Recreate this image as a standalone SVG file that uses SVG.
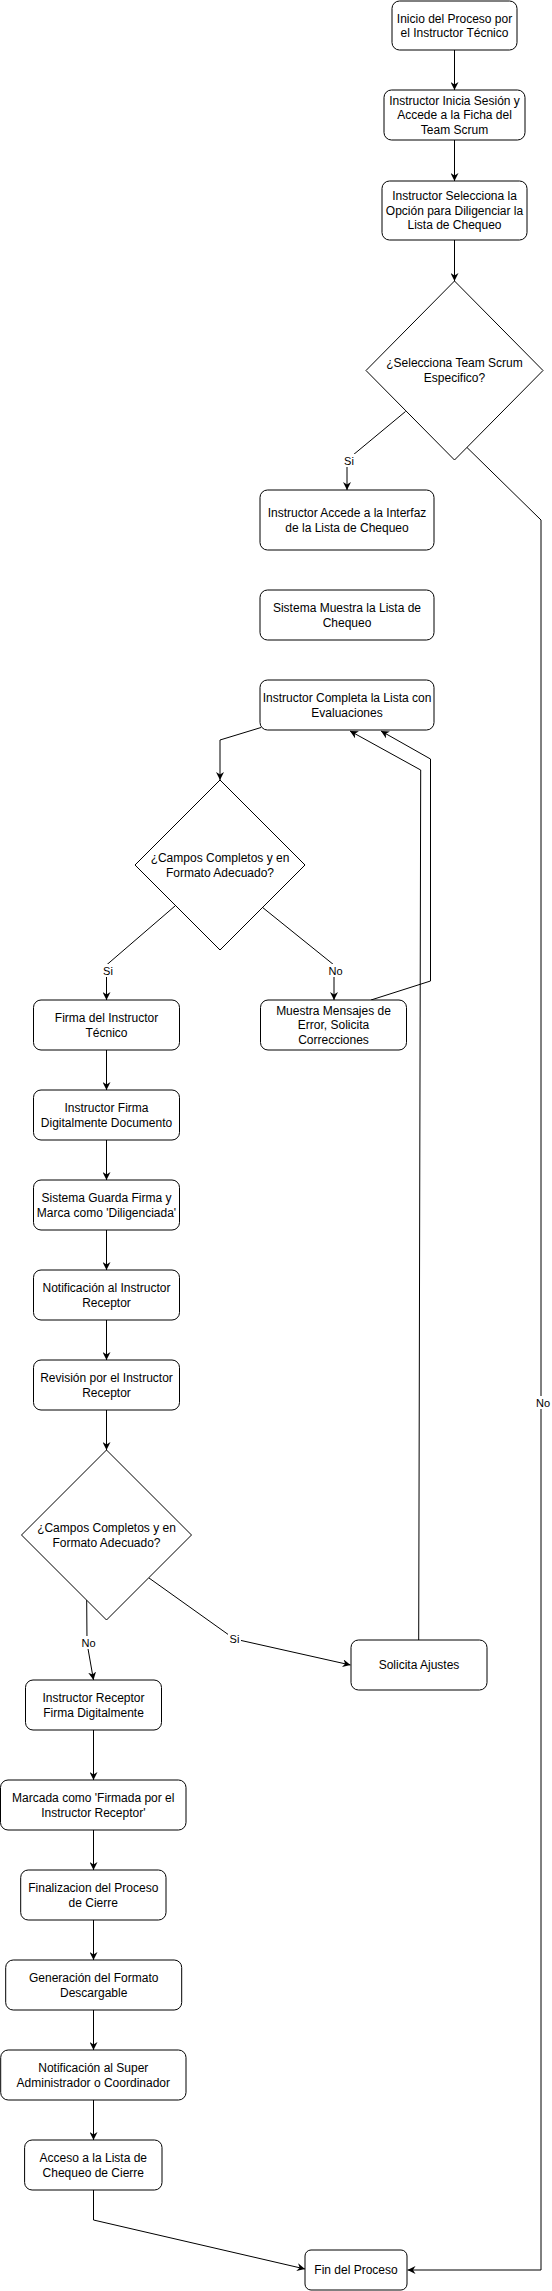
<svg xmlns="http://www.w3.org/2000/svg" width="552" height="2291" viewBox="0 0 552 2291">
<defs>
<style>
.n rect,.n polygon{fill:#fff;stroke:#000;stroke-width:1}
.n text{font-family:"Liberation Sans",Arial,sans-serif;font-size:12px;fill:#000;text-anchor:middle}
.e path{fill:none;stroke:#000;stroke-width:1}
.e path.a{marker-end:url(#arr)}
.lb rect{fill:#fff;stroke:none}
.lb text{font-family:"Liberation Sans",Arial,sans-serif;font-size:11px;fill:#000;text-anchor:middle}
</style>
<marker id="arr" viewBox="0 0 8 8" refX="8" refY="4" markerWidth="8" markerHeight="8" orient="auto" markerUnits="userSpaceOnUse">
<path d="M0,0 L8,4 L0,8 L2.5,4 z" fill="#000"/>
</marker>
</defs>
<g id="connectors" class="e">
<path class="a" d="M454.5,50 L454.5,90"/>
<path class="a" d="M454.5,140 L454.5,181"/>
<path class="a" d="M454.5,240 L454.5,281"/>
<path class="a" d="M405.5,411.5 L347,460 L347,490"/>
<path class="a" d="M467,447.5 L541,520 L541,2270 L407.5,2270"/>
<path class="a" d="M261,727.5 L220,740 L220,780"/>
<path class="a" d="M175,906 L106.5,965 L106.5,1000"/>
<path class="a" d="M262,907 L334,965 L334,1000"/>
<path class="a" d="M371,1000 L430.5,981 L430.5,759 L381,731"/>
<path class="a" d="M418.7,1640 L420.7,770 L350,731"/>
<path class="a" d="M106.5,1050 L106.5,1090"/>
<path class="a" d="M106.5,1140 L106.5,1180"/>
<path class="a" d="M106.5,1230 L106.5,1270"/>
<path class="a" d="M106.5,1320 L106.5,1360"/>
<path class="a" d="M106.5,1410 L106.5,1450"/>
<path class="a" d="M86.7,1600 L87,1643 L93.5,1680"/>
<path class="a" d="M149,1578 L234.5,1639 L350.5,1665"/>
<path class="a" d="M93.5,1730 L93.5,1780"/>
<path class="a" d="M93.5,1830 L93.5,1870"/>
<path class="a" d="M93.5,1920 L93.5,1960"/>
<path class="a" d="M93.5,2010 L93.5,2050"/>
<path class="a" d="M93.5,2100 L93.5,2140"/>
<path class="a" d="M93.5,2190 L93.5,2220 L305,2269"/>
<g class="lb">
<rect x="343" y="454" width="13" height="13"/><text x="349" y="465">Si</text>
<rect x="535.5" y="1396" width="15" height="13"/><text x="543" y="1407">No</text>
<rect x="102" y="964" width="13" height="13"/><text x="108" y="975">Si</text>
<rect x="328" y="964" width="15" height="13"/><text x="335.5" y="975">No</text>
<rect x="81" y="1636" width="15" height="13"/><text x="88.5" y="1647">No</text>
<rect x="228" y="1632" width="13" height="13"/><text x="234.5" y="1643">Si</text>
</g>
</g>
<g id="n1" class="n"><rect x="392" y="1" width="125" height="49" rx="7.5"/><text x="454.5" y="22.6">Inicio del Proceso por</text><text x="454.5" y="37">el Instructor Técnico</text></g>
<g id="n2" class="n"><rect x="384" y="90" width="141" height="50" rx="7.5"/><text x="454.5" y="104.9">Instructor Inicia Sesión y</text><text x="454.5" y="119.3">Accede a la Ficha del</text><text x="454.5" y="133.7">Team Scrum</text></g>
<g id="n3" class="n"><rect x="382" y="181" width="145" height="59" rx="7.5"/><text x="454.5" y="200.4">Instructor Selecciona la</text><text x="454.5" y="214.8">Opción para Diligenciar la</text><text x="454.5" y="229.2">Lista de Chequeo</text></g>
<g id="d1" class="n"><polygon points="454.5,281 543,370.5 454.5,460 366,370.5"/><text x="454.5" y="367.4">¿Selecciona Team Scrum</text><text x="454.5" y="381.8">Especifico?</text></g>
<g id="n4" class="n"><rect x="260" y="490" width="174" height="60" rx="7.5"/><text x="347" y="517.1">Instructor Accede a la Interfaz</text><text x="347" y="531.5">de la Lista de Chequeo</text></g>
<g id="n5" class="n"><rect x="260" y="590" width="174" height="50" rx="7.5"/><text x="347" y="612.1">Sistema Muestra la Lista de</text><text x="347" y="626.5">Chequeo</text></g>
<g id="n6" class="n"><rect x="260" y="680" width="174" height="50" rx="7.5"/><text x="347" y="702.1">Instructor Completa la Lista con</text><text x="347" y="716.5">Evaluaciones</text></g>
<g id="d2" class="n"><polygon points="220,780 305,865 220,950 135,865"/><text x="220" y="862.1">¿Campos Completos y en</text><text x="220" y="876.5">Formato Adecuado?</text></g>
<g id="n7" class="n"><rect x="33.5" y="1000" width="146" height="50" rx="7.5"/><text x="106.5" y="1022.1">Firma del Instructor</text><text x="106.5" y="1036.5">Técnico</text></g>
<g id="n8" class="n"><rect x="260.5" y="1000" width="146" height="50" rx="7.5"/><text x="333.5" y="1014.9">Muestra Mensajes de</text><text x="333.5" y="1029.3">Error, Solicita</text><text x="333.5" y="1043.7">Correcciones</text></g>
<g id="n9" class="n"><rect x="33.5" y="1090" width="146" height="50" rx="7.5"/><text x="106.5" y="1112.1">Instructor Firma</text><text x="106.5" y="1126.5">Digitalmente Documento</text></g>
<g id="n10" class="n"><rect x="33.5" y="1180" width="146" height="50" rx="7.5"/><text x="106.5" y="1202.1">Sistema Guarda Firma y</text><text x="106.5" y="1216.5">Marca como 'Diligenciada'</text></g>
<g id="n11" class="n"><rect x="33.5" y="1270" width="146" height="50" rx="7.5"/><text x="106.5" y="1292.1">Notificación al Instructor</text><text x="106.5" y="1306.5">Receptor</text></g>
<g id="n12" class="n"><rect x="33.5" y="1360" width="146" height="50" rx="7.5"/><text x="106.5" y="1382.1">Revisión por el Instructor</text><text x="106.5" y="1396.5">Receptor</text></g>
<g id="d3" class="n"><polygon points="106.5,1450 191.5,1535 106.5,1620 21.5,1535"/><text x="106.5" y="1532.1">¿Campos Completos y en</text><text x="106.5" y="1546.5">Formato Adecuado?</text></g>
<g id="n13" class="n"><rect x="351" y="1640" width="136" height="50" rx="7.5"/><text x="419" y="1669.3">Solicita Ajustes</text></g>
<g id="n14" class="n"><rect x="25.5" y="1680" width="136" height="50" rx="7.5"/><text x="93.5" y="1702.1">Instructor Receptor</text><text x="93.5" y="1716.5">Firma Digitalmente</text></g>
<g id="n15" class="n"><rect x="0.5" y="1780" width="185.5" height="50" rx="7.5"/><text x="93.3" y="1802.1">Marcada como 'Firmada por el</text><text x="93.3" y="1816.5">Instructor Receptor'</text></g>
<g id="n16" class="n"><rect x="20.7" y="1870" width="145.3" height="50" rx="7.5"/><text x="93.3" y="1892.1">Finalizacion del Proceso</text><text x="93.3" y="1906.5">de Cierre</text></g>
<g id="n17" class="n"><rect x="5.7" y="1960" width="176" height="50" rx="7.5"/><text x="93.7" y="1982.1">Generación del Formato</text><text x="93.7" y="1996.5">Descargable</text></g>
<g id="n18" class="n"><rect x="0.7" y="2050" width="185.3" height="50" rx="7.5"/><text x="93.3" y="2072.1">Notificación al Super</text><text x="93.3" y="2086.5">Administrador o Coordinador</text></g>
<g id="n19" class="n"><rect x="24.6" y="2140" width="137.4" height="50" rx="7.5"/><text x="93.3" y="2162.1">Acceso a la Lista de</text><text x="93.3" y="2176.5">Chequeo de Cierre</text></g>
<g id="n20" class="n"><rect x="305" y="2250" width="102" height="40" rx="6"/><text x="356" y="2274.3">Fin del Proceso</text></g>
</svg>
